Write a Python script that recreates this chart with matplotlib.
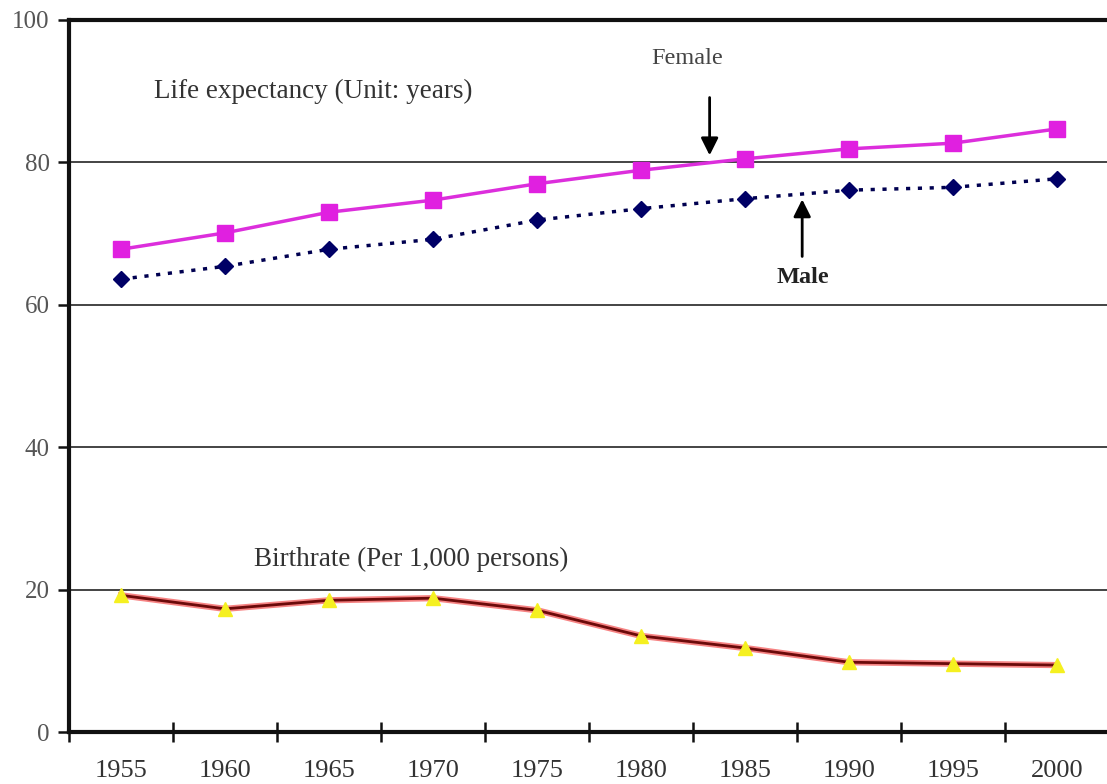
import matplotlib
matplotlib.use("Agg")
import matplotlib.pyplot as plt
import numpy as np

# values
years = ["1955", "1960", "1965", "1970", "1975", "1980", "1985", "1990", "1995", "2000"]
female = [67.8, 70.1, 73.0, 74.7, 77.0, 78.9, 80.5, 81.9, 82.7, 84.7]
male = [63.6, 65.4, 67.8, 69.2, 71.9, 73.5, 74.9, 76.1, 76.5, 77.7]
birthrate = [19.2, 17.3, 18.5, 18.8, 17.1, 13.5, 11.8, 9.8, 9.6, 9.4]

plt.rcParams['font.family'] = ['Liberation Serif', 'DejaVu Serif']

fig = plt.figure(figsize=(11.07, 7.84), dpi=100)
ax = fig.add_axes([0.0623, 0.0663, 0.9395, 0.9082])

x = np.arange(len(years))

ax.plot(x, female, color='#dc2edc', lw=2.5, marker='s', ms=11,
        markerfacecolor='#e020e0', markeredgecolor='#e020e0', zorder=3)
ax.plot(x, male, color='#000050', lw=2.5, ls=(0, (1.2, 2.2)), marker='D', ms=8,
        markerfacecolor='#000066', markeredgecolor='#000066', zorder=3)
ax.plot(x, birthrate, color='#f03030', lw=4.5, alpha=0.6, zorder=2)
ax.plot(x, birthrate, color='#6b0a0a', lw=2, marker='^', ms=10,
        markerfacecolor='#f5f020', markeredgecolor='#f5f020', zorder=3)

ax.set_xlim(-0.5, len(years) - 0.5)
ax.set_ylim(0, 100)
ax.set_yticks([0, 20, 40, 60, 80, 100])
ax.set_xticks(x)
ax.set_xticklabels(years)
ax.set_xticks(np.arange(len(years)) - 0.5, minor=True)
ax.tick_params(axis='x', which='major', length=0, pad=20, labelsize=19, labelcolor='#333333')
ax.tick_params(axis='x', which='minor', length=14, width=1.8, direction='inout', color='#111111')
ax.tick_params(axis='y', length=8, width=1.8, pad=6, labelsize=18, labelcolor='#555555', color='#111111')

for v in [20, 40, 60, 80]:
    ax.axhline(v, color='#111111', lw=1.1, zorder=1)

for side in ['left', 'bottom', 'top']:
    ax.spines[side].set_linewidth(3)
    ax.spines[side].set_color('#111111')
ax.spines['right'].set_visible(False)

ax.text(1.85, 89.9, "Life expectancy (Unit: years)", fontsize=19.5, color='#333333', va='center', ha='center')
ax.text(5.44, 94.6, "Female", fontsize=17.5, color='#444444', va='center', ha='center')
ax.text(6.56, 63.9, "Male", fontsize=17.5, fontweight='bold', color='#222222', va='center', ha='center')
ax.text(2.79, 24.3, "Birthrate (Per 1,000 persons)", fontsize=19.5, color='#333333', va='center', ha='center')

ax.annotate("", xy=(5.66, 80.6), xytext=(5.66, 89.5),
            arrowprops=dict(arrowstyle='-|>', color='black', lw=2, mutation_scale=26))
ax.annotate("", xy=(6.55, 75.2), xytext=(6.55, 66.4),
            arrowprops=dict(arrowstyle='-|>', color='black', lw=2, mutation_scale=26))

fig.savefig("out.png", dpi=100)
